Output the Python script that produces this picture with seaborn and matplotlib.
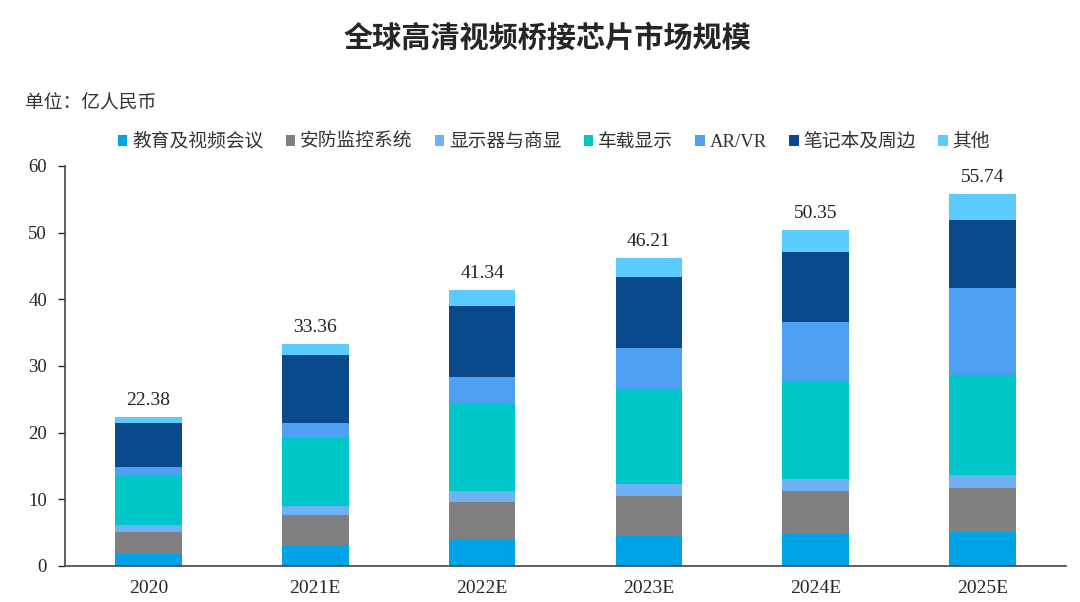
import matplotlib
matplotlib.use('Agg')
import matplotlib.pyplot as plt
import seaborn as sns
import numpy as np
import pandas as pd
from matplotlib.patches import Patch

sns.set_style('white')
plt.rcParams['font.family'] = ['Liberation Serif', 'Noto Sans CJK SC', 'DejaVu Sans']

years = ['2020', '2021E', '2022E', '2023E', '2024E', '2025E']
totals = [22.38, 33.36, 41.34, 46.21, 50.35, 55.74]

# segment values (bottom -> top)
edu = [1.8, 3.0, 4.0, 4.5, 4.85, 5.15]
security = [3.35, 4.65, 5.6, 6.05, 6.35, 6.6]
monitor = [1.0, 1.4, 1.7, 1.8, 1.85, 1.95]
car = [7.45, 10.2, 13.1, 14.15, 14.7, 14.95]
arvr = [1.3, 2.25, 3.9, 6.15, 8.85, 13.0]
notebook = [6.5, 10.2, 10.75, 10.75, 10.5, 10.25]
other = [0.98, 1.66, 2.29, 2.81, 3.25, 3.84]

series_names = ['教育及视频会议', '安防监控系统', '显示器与商显', '车载显示', 'AR/VR', '笔记本及周边', '其他']
series_vals = [edu, security, monitor, car, arvr, notebook, other]
colors = ['#00A3E6', '#808080', '#6EB2F4', '#00C7C7', '#4DA0F2', '#0A4A8C', '#5CCBFF']

df = pd.DataFrame(dict(zip(series_names, series_vals)), index=years)

fig = plt.figure(figsize=(10.8, 6.02), dpi=100)
ax = fig.add_axes([65 / 1080, 1 - 566 / 602, (1066 - 65) / 1080, 400 / 602])

bottom = np.zeros(len(years))
for name, color in zip(series_names, colors):
    sns.barplot(x=years, y=df[name].values, bottom=bottom, color=color,
                width=0.4, ax=ax, edgecolor='none', linewidth=0, saturation=1)
    bottom += df[name].values

for i, t in enumerate(totals):
    ax.text(i, t + 1.2, f'{t:.2f}', ha='center', va='bottom', fontsize=14, color='#222222')

ax.set_ylim(0, 60)
ax.set_xlim(-0.5, len(years) - 0.5)
ax.set_yticks(range(0, 61, 10))
ax.tick_params(axis='y', direction='out', length=5, width=1, labelsize=13.5, pad=8, left=True)
ax.set_xticks(range(len(years)))
ax.set_xticklabels(years, fontsize=14)
ax.tick_params(axis='x', length=0, pad=10)
ax.set_xticks(np.arange(-0.5, len(years), 1), minor=True)
ax.tick_params(axis='x', which='minor', direction='in', length=5, width=1)
for s in ['top', 'right']:
    ax.spines[s].set_visible(False)
for s in ['left', 'bottom']:
    ax.spines[s].set_color('#444444')
    ax.spines[s].set_linewidth(1.2)
ax.set_xlabel('')
ax.set_ylabel('')

fig.text(547 / 1080, 1 - 38 / 602, '全球高清视频桥接芯片市场规模', ha='center', va='center',
         fontsize=21, family=['Noto Sans CJK SC'], fontweight='bold')
fig.text(25 / 1080, 1 - 103 / 602, '单位：亿人民币', ha='left', va='center', fontsize=13.5,
         family=['Noto Sans CJK SC'], color='#333333')

handles = [Patch(facecolor=c, edgecolor='none') for c in colors]
fig.legend(handles, series_names, loc='center left', bbox_to_anchor=(101 / 1080, 1 - 142 / 602),
           ncol=7, frameon=False, fontsize=13.5, handlelength=0.5, handleheight=0.5,
           handletextpad=0.25, columnspacing=1.2, labelcolor='#333333')

fig.savefig('out.png', dpi=100)
